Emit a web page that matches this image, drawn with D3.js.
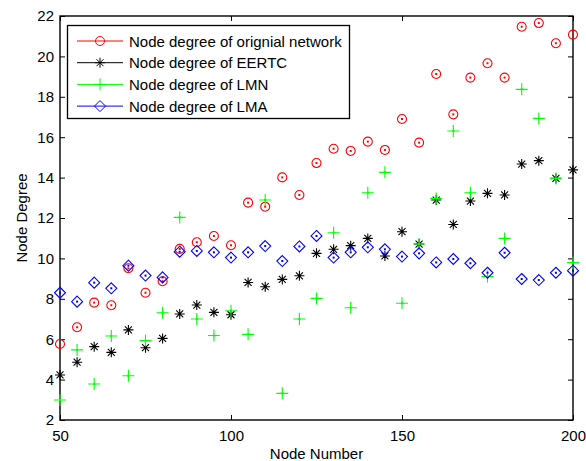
<!DOCTYPE html>
<html>
<head>
<meta charset="utf-8">
<script src="https://cdn.jsdelivr.net/npm/d3@7"></script>
<style>
  body { margin: 0; background: #fff; }
  text { font-family: Arial, "Liberation Sans", sans-serif; }
</style>
</head>
<body>
<div id="chart"></div>
<script>
// data
const nodes = d3.range(50, 201, 5)
const original = [5.76, 6.59, 7.81, 7.68, 9.51, 8.30, 8.87, 10.47, 10.80, 11.11, 10.65, 12.76, 12.56, 14.01, 13.14,
  14.72, 15.43, 15.32, 15.78, 15.37, 16.90, 15.73, 19.13, 17.13, 18.95, 19.66, 18.95, 21.47, 21.65, 20.65, 21.08]
const eertc = [4.23, 4.86, 5.63, 5.35, 6.46, 5.58, 6.04, 7.25, 7.69, 7.33, 7.21, 8.81, 8.60, 8.96, 9.14,
  10.25, 10.45, 10.63, 10.99, 10.12, 11.32, 10.71, 12.89, 11.68, 12.84, 13.22, 13.14, 14.67, 14.84, 13.96, 14.38]
const lmn = [2.99, 5.47, 3.78, 6.16, 4.19, 5.93, 7.31, 12.03, 7.00, 6.18, 7.41, 6.24, 12.89, 3.32, 7.00,
  8.02, 11.27, 7.56, 13.25, 14.26, 7.78, 10.71, 12.97, 16.31, 13.25, 9.10, 10.99, 18.37, 16.93, 13.96, 9.79]
const lma = [8.30, 7.86, 8.80, 8.52, 9.64, 9.15, 9.06, 10.33, 10.37, 10.30, 10.04, 10.30, 10.61, 9.87, 10.59,
  11.11, 10.04, 10.30, 10.55, 10.45, 10.09, 10.25, 9.80, 9.97, 9.76, 9.29, 10.28, 8.98, 8.93, 9.29, 9.39]
const xTicks = [50, 100, 150, 200]
const yTicks = d3.range(2, 23, 2)
const labels = ['Node degree of orignial network', 'Node degree of EERTC', 'Node degree of LMN', 'Node degree of LMA']

const width = 586, height = 461
const plotLeft = 60, plotRight = 573, plotTop = 16, plotBottom = 420
const fontSize = 15

const svg = d3.select('#chart').append('svg')
  .attr('width', width)
  .attr('height', height)

const x = d3.scaleLinear().domain([50, 200]).range([plotLeft, plotRight])
const y = d3.scaleLinear().domain([2, 22]).range([plotBottom, plotTop])

// axes, ticks pointing inwards like matlab
let styleAxis = g => {
  g.select('.domain').remove()
  g.selectAll('line').attr('stroke', '#000')
  g.selectAll('text').attr('font-size', fontSize).attr('fill', '#000')
}
svg.append('g').attr('transform', `translate(0,${plotBottom})`)
  .call(d3.axisBottom(x).tickValues(xTicks).tickSize(-5).tickPadding(10)).call(styleAxis)
svg.append('g').attr('transform', `translate(0,${plotTop})`)
  .call(d3.axisTop(x).tickValues(xTicks).tickSize(-5).tickFormat('')).call(styleAxis)
svg.append('g').attr('transform', `translate(${plotLeft},0)`)
  .call(d3.axisLeft(y).tickValues(yTicks).tickSize(-5).tickPadding(6)).call(styleAxis)
svg.append('g').attr('transform', `translate(${plotRight},0)`)
  .call(d3.axisRight(y).tickValues(yTicks).tickSize(-5).tickFormat('')).call(styleAxis)

svg.append('rect')
  .attr('x', plotLeft).attr('y', plotTop)
  .attr('width', plotRight - plotLeft).attr('height', plotBottom - plotTop)
  .attr('fill', 'none').attr('stroke', '#000').attr('stroke-width', 1.4)

svg.append('text').attr('x', (plotLeft + plotRight) / 2).attr('y', 459)
  .attr('text-anchor', 'middle').attr('font-size', fontSize).text('Node Number')
svg.append('text').attr('transform', `translate(27,${(plotTop + plotBottom) / 2}) rotate(-90)`)
  .attr('text-anchor', 'middle').attr('font-size', fontSize).text('Node Degree')

// marker shapes
const markers = {
  circle: 'M4.5,0A4.5,4.5 0 1,1 -4.5,0A4.5,4.5 0 1,1 4.5,0Z',
  star: 'M-5,0L5,0M0,-5L0,5M-3.5,-3.5L3.5,3.5M-3.5,3.5L3.5,-3.5',
  plus: 'M-6,0L6,0M0,-6L0,6',
  diamond: 'M0,-5.5L5.5,0L0,5.5L-5.5,0Z'
}

const series = [
  { values: original, color: '#ff0000', shape: 'circle' },
  { values: eertc, color: '#000000', shape: 'star' },
  { values: lmn, color: '#00ff00', shape: 'plus' },
  { values: lma, color: '#0000ff', shape: 'diamond' }
]

series.forEach(s => {
  let g = svg.append('g')
  g.selectAll('path')
    .data(s.values)
    .enter()
    .append('path')
    .attr('transform', (d, i) => `translate(${x(nodes[i])},${y(d)})`)
    .attr('d', markers[s.shape])
    .attr('fill', 'none')
    .attr('stroke', s.color)
    .attr('stroke-width', 1.1)
  g.selectAll('rect')
    .data(s.values)
    .enter()
    .append('rect')
    .attr('x', (d, i) => x(nodes[i]) - 1)
    .attr('y', d => y(d) - 1)
    .attr('width', 2).attr('height', 2)
    .attr('fill', s.color)
})

// legend
let legend = svg.append('g')
legend.append('rect')
  .attr('x', 67.5).attr('y', 25.5)
  .attr('width', 282).attr('height', 93)
  .attr('fill', '#fff').attr('stroke', '#000').attr('stroke-width', 1.3)
series.forEach((s, i) => {
  let ly = 41 + i * 21.7
  legend.append('line')
    .attr('x1', 77).attr('x2', 123).attr('y1', ly).attr('y2', ly)
    .attr('stroke', s.color)
  legend.append('path')
    .attr('transform', `translate(100,${ly})`)
    .attr('d', markers[s.shape])
    .attr('fill', 'none').attr('stroke', s.color)
  legend.append('text')
    .attr('x', 129).attr('y', ly + 5.5)
    .attr('font-size', fontSize)
    .text(labels[i])
})
</script>
</body>
</html>
